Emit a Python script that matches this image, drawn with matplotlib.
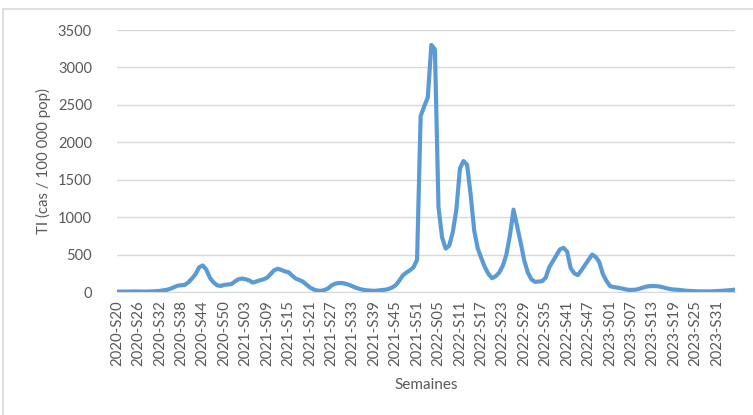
import matplotlib.pyplot as plt
from matplotlib.patches import Rectangle

# semaines : 2020-S20 .. 2023-S36
years = [2020, 2021, 2022, 2023]
first_week = [20, 1, 1, 1]
last_week = [53, 52, 52, 36]

weeks = []
for yr, w0, w1 in zip(years, first_week, last_week):
    for w in range(w0, w1 + 1):
        weeks.append('%d-S%02d' % (yr, w))

# taux d'incidence (cas / 100 000 pop)
ti = [5, 5, 5, 6, 6, 7, 6, 5, 5, 6,
      8, 12, 15, 22, 30, 45, 65, 85, 90, 95,
      130, 180, 240, 330, 355, 300, 190, 130, 90, 80,
      95, 100, 105, 140, 170, 180, 170, 155, 125, 140,
      155, 170, 190, 240, 290, 310, 295, 275, 265, 220,
      180, 160, 140, 100, 60, 35, 20, 15, 25, 45,
      85, 110, 120, 120, 110, 95, 75, 55, 40, 28,
      22, 18, 15, 20, 25, 30, 40, 60, 90, 150,
      220, 260, 290, 330, 430, 2350, 2480, 2600, 3300, 3240,
      1130, 730, 580, 620, 800, 1100, 1650, 1750, 1700, 1300,
      820, 580, 450, 330, 240, 185, 210, 260, 350, 500,
      760, 1100, 880, 660, 420, 260, 170, 135, 140, 145,
      190, 330, 410, 490, 570, 590, 540, 320, 250, 225,
      290, 360, 430, 500, 470, 400, 240, 150, 80, 65,
      60, 50, 40, 30, 28, 30, 40, 55, 70, 78,
      80, 78, 72, 60, 48, 38, 33, 30, 25, 18,
      15, 12, 10, 8, 8, 8, 8, 10, 12, 15,
      18, 22, 26, 32]

plt.rcParams['font.family'] = ['Lato', 'DejaVu Sans']
grey = '#595959'

fig = plt.figure(figsize=(7.53, 4.15), dpi=100)
fig.patches.append(Rectangle((3 / 753, -0.1), 1.1, 1.1 - 9 / 415,
                             transform=fig.transFigure, fill=False,
                             edgecolor='#d9d9d9', linewidth=1.2))
ax = fig.add_axes([117 / 753, 1 - 292 / 415, (735 - 117) / 753, (292 - 30) / 415])

x = list(range(len(ti)))
ax.plot(x, ti, color='#5b9bd5', linewidth=3, solid_joinstyle='round', zorder=3)

ax.set_xlim(0, len(ti) - 1)
ax.set_ylim(0, 3500)
ax.set_yticks(range(0, 3501, 500))
ax.set_xticks(x[::6])
ax.set_xticklabels(weeks[::6], rotation=90)
ax.tick_params(axis='both', length=0, colors=grey)
ax.tick_params(axis='y', pad=18, labelsize=10.5)
ax.tick_params(axis='x', pad=6, labelsize=10.8)
ax.grid(axis='y', color='#d9d9d9', linewidth=1)
ax.set_axisbelow(True)
for s in ['top', 'right', 'left']:
    ax.spines[s].set_visible(False)
ax.spines['bottom'].set_color('#d9d9d9')

ax.set_ylabel('TI (cas / 100 000 pop)', color=grey, fontsize=10.8, labelpad=5)
ax.set_xlabel('Semaines', color=grey, fontsize=11, labelpad=8)

fig.savefig('out.png', dpi=100)
